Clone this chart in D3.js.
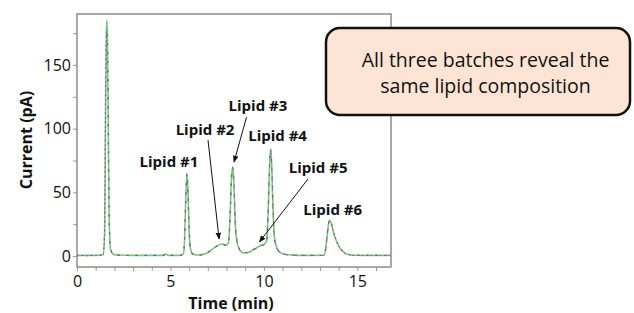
<!DOCTYPE html>
<html>
<head>
<meta charset="utf-8">
<script src="https://cdn.jsdelivr.net/npm/d3@7"></script>
<style>
  body { margin: 0; background: #fff; }
  svg { display: block; font-family: "Open Sans", sans-serif; }
</style>
</head>
<body>
<div id="chart"></div>
<script>
// retention time (min), shared by the three batches
const time = [
  0, 1.0, 1.4, 1.48, 1.53, 1.57, 1.6, 1.63, 1.67, 1.72,
  1.8, 1.95, 2.2, 3.0, 4.0, 4.6, 4.75, 4.9, 5.5, 5.7,
  5.76, 5.82, 5.88, 5.94, 6.0, 6.08, 6.2, 6.5, 6.9, 7.2,
  7.5, 7.75, 7.95, 8.1, 8.2, 8.26, 8.33, 8.4, 8.46, 8.55,
  8.7, 8.9, 9.2, 9.5, 9.8, 10.0, 10.15, 10.24, 10.3, 10.36,
  10.42, 10.48, 10.56, 10.7, 10.9, 11.2, 11.6, 12.2, 13.2, 13.3,
  13.4, 13.5, 13.6, 13.7, 13.85, 14.0, 14.2, 14.45, 14.8, 15.5,
  16.2, 16.8
];

// current (pA) per batch
const batch1 = [
  0.5, 0.5, 1, 20, 120, 175, 185, 170, 110, 30,
  5, 1.5, 0.8, 0.5, 0.5, 0.5, 1.5, 0.5, 0.5, 2,
  15, 45, 65, 50, 20, 5, 1.5, 0.8, 2, 5,
  8, 9.5, 8.5, 10, 35, 60, 70, 55, 28, 12,
  5, 2.5, 3, 5.5, 8, 9, 12, 40, 70, 84,
  70, 40, 15, 6, 2.5, 1.2, 0.7, 0.5, 0.6, 5,
  18, 28, 26, 20, 13, 8, 4, 1.5, 0.6, 0.5,
  0.5, 0.5
];
const batch2 = [
  0.3, 0.4, 1, 18, 115, 172, 176, 165, 105, 28,
  5, 1.5, 0.7, 0.4, 0.4, 0.4, 1.2, 0.4, 0.4, 2,
  14, 44, 64, 49, 19, 5, 1.4, 0.7, 1.9, 4.8,
  7.8, 9.3, 8.3, 9.8, 34, 59, 69, 54, 27, 12,
  5, 2.4, 2.9, 5.3, 7.8, 8.8, 11.5, 39, 69, 83,
  69, 39, 15, 6, 2.4, 1.1, 0.6, 0.4, 0.5, 4.8,
  17.5, 27.5, 25.5, 19.5, 12.8, 7.8, 3.9, 1.4, 0.5, 0.4,
  0.4, 0.4
];
const batch3 = [
  0.4, 0.5, 1.2, 22, 125, 170, 178, 172, 112, 32,
  5.5, 1.6, 0.8, 0.5, 0.5, 0.5, 1.4, 0.5, 0.5, 2.2,
  16, 46, 64.5, 51, 21, 5.2, 1.6, 0.8, 2.1, 5.1,
  8.1, 9.6, 8.6, 10.2, 36, 61, 69.5, 56, 29, 12.5,
  5.2, 2.6, 3.1, 5.6, 8.1, 9.1, 12.2, 41, 71, 83.5,
  71, 41, 15.5, 6.2, 2.6, 1.2, 0.7, 0.5, 0.6, 5.2,
  18.5, 28.2, 26.2, 20.2, 13.2, 8.2, 4.1, 1.6, 0.6, 0.5,
  0.5, 0.5
];

const yTicks = [0, 25, 50, 75, 100, 125, 150, 175];
const yLabels = [0, 50, 100, 150];
const xTicks = [0, 1, 2, 3, 4, 5, 6, 7, 8, 9, 10, 11, 12, 13, 14, 15, 16];
const xLabels = [0, 5, 10, 15];

// peak labels: text anchored at (t, value)
const peakNames = ['Lipid #1', 'Lipid #2', 'Lipid #3', 'Lipid #4', 'Lipid #5', 'Lipid #6'];
const peakLabelT = [4.92, 6.85, 9.68, 10.73, 12.9, 13.68];
const peakLabelV = [70, 95, 114, 90.5, 65, 32];

// arrows from label to peak
const arrowFrom = [[7.01, 91], [9.07, 109], [12.36, 60.5]];
const arrowTo = [[7.6, 13.4], [8.4, 73.8], [9.76, 11]];

const calloutLines = ['All three batches reveal the', 'same lipid composition'];

const width = 634, height = 313;
const frame = { left: 77, top: 14, right: 391, bottom: 267 };

const svg = d3.select('#chart')
  .append('svg')
  .attr('width', width)
  .attr('height', height);

const x = d3.scaleLinear().domain([0, 16.8]).range([frame.left, frame.right]);
const y = d3.scaleLinear().domain([-8.6, 190]).range([frame.bottom, frame.top]);

svg.append('defs').append('clipPath')
  .attr('id', 'plot-clip')
  .append('rect')
  .attr('x', frame.left)
  .attr('y', frame.top)
  .attr('width', frame.right - frame.left)
  .attr('height', frame.bottom - frame.top);

svg.append('defs').append('marker')
  .attr('id', 'arrowhead')
  .attr('viewBox', '0 0 10 10')
  .attr('refX', 9)
  .attr('refY', 5)
  .attr('markerWidth', 7)
  .attr('markerHeight', 7)
  .attr('orient', 'auto')
  .append('path')
  .attr('d', 'M0,1 L10,5 L0,9 Z')
  .attr('fill', '#111');

// axes
const yAxis = svg.append('g')
  .attr('transform', `translate(${frame.left},0)`)
  .call(d3.axisLeft(y)
    .tickValues(yTicks)
    .tickSize(4)
    .tickPadding(2)
    .tickFormat(d => yLabels.includes(d) ? d : ''));

const xAxis = svg.append('g')
  .attr('transform', `translate(0,${frame.bottom})`)
  .call(d3.axisBottom(x)
    .tickValues(xTicks)
    .tickSize(4)
    .tickPadding(5)
    .tickFormat(d => xLabels.includes(d) ? d : ''));

[yAxis, xAxis].forEach(ax => {
  ax.select('.domain').remove();
  ax.selectAll('.tick line').attr('stroke', '#9a9a9a');
  ax.selectAll('.tick text')
    .attr('fill', '#111')
    .style('font-family', '"Open Sans", sans-serif')
    .style('font-size', '16px');
});

// traces
const line = (values) => d3.line()
  .x((d, i) => x(time[i]))
  .y(d => y(d))
  .curve(d3.curveMonotoneX)(values);

const traces = svg.append('g').attr('clip-path', 'url(#plot-clip)');

traces.append('path')
  .attr('d', line(batch1))
  .attr('fill', 'none')
  .attr('stroke', '#78c878')
  .attr('stroke-width', 1.6);

traces.append('path')
  .attr('d', line(batch2))
  .attr('fill', 'none')
  .attr('stroke', '#d9534a')
  .attr('stroke-width', 1.1)
  .attr('stroke-dasharray', '2,7');

traces.append('path')
  .attr('d', line(batch3))
  .attr('fill', 'none')
  .attr('stroke', '#3f5fd8')
  .attr('stroke-width', 1.1)
  .attr('stroke-dasharray', '2,7')
  .attr('stroke-dashoffset', 4.5);

// frame
svg.append('rect')
  .attr('x', frame.left)
  .attr('y', frame.top)
  .attr('width', frame.right - frame.left)
  .attr('height', frame.bottom - frame.top)
  .attr('fill', 'none')
  .attr('stroke', '#8c8c8c')
  .attr('stroke-width', 1.5);

// axis titles
svg.append('text')
  .attr('x', (frame.left + frame.right) / 2 - 3)
  .attr('y', 309)
  .attr('text-anchor', 'middle')
  .style('font-weight', 'bold')
  .style('font-size', '16px')
  .attr('fill', '#111')
  .text('Time (min)');

svg.append('text')
  .attr('transform', 'translate(32,140) rotate(-90)')
  .attr('text-anchor', 'middle')
  .style('font-weight', 'bold')
  .style('font-size', '16px')
  .attr('fill', '#111')
  .text('Current (pA)');

// arrows
svg.append('g')
  .selectAll('line')
  .data(arrowFrom)
  .join('line')
  .attr('x1', d => x(d[0]))
  .attr('y1', d => y(d[1]))
  .attr('x2', (d, i) => x(arrowTo[i][0]))
  .attr('y2', (d, i) => y(arrowTo[i][1]))
  .attr('stroke', '#111')
  .attr('stroke-width', 1)
  .attr('marker-end', 'url(#arrowhead)');

// peak labels
svg.append('g')
  .selectAll('text')
  .data(peakNames)
  .join('text')
  .attr('x', (d, i) => x(peakLabelT[i]))
  .attr('y', (d, i) => y(peakLabelV[i]))
  .attr('text-anchor', 'middle')
  .style('font-weight', 'bold')
  .style('font-size', '15px')
  .attr('fill', '#111')
  .text(d => d);

// callout
const callout = svg.append('g');
callout.append('rect')
  .attr('x', 326)
  .attr('y', 28)
  .attr('width', 304)
  .attr('height', 87)
  .attr('rx', 14)
  .attr('fill', '#fde4d4')
  .attr('stroke', '#111')
  .attr('stroke-width', 2.5);

callout.selectAll('text')
  .data(calloutLines)
  .join('text')
  .attr('x', 485.5)
  .attr('y', (d, i) => 67 + i * 25.5)
  .attr('text-anchor', 'middle')
  .style('font-size', '19.5px')
  .attr('fill', '#111')
  .text(d => d);
</script>
</body>
</html>
